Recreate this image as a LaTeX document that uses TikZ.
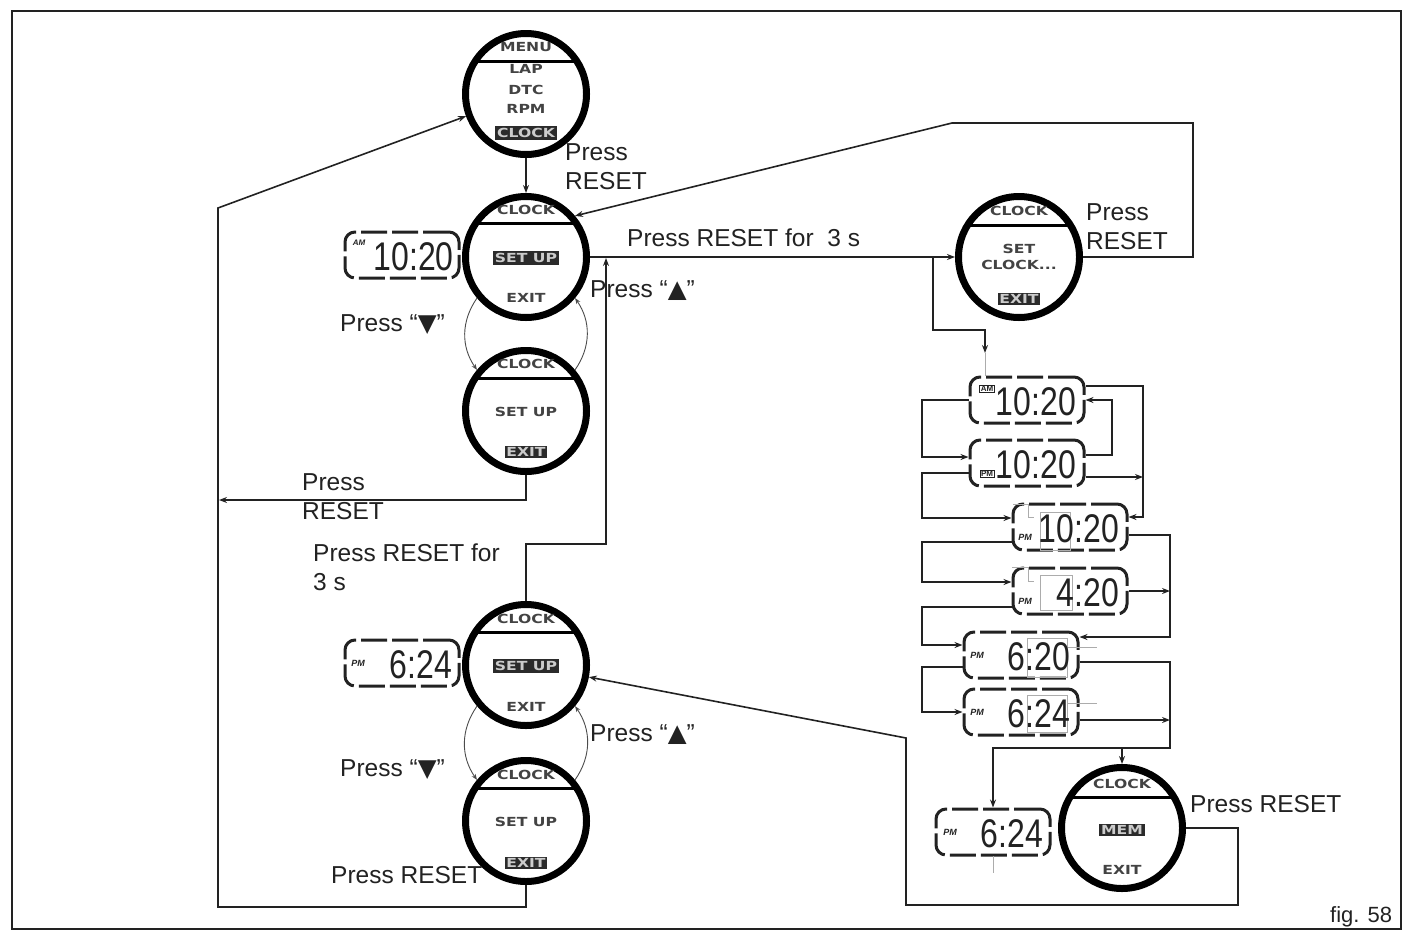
\documentclass[tikz,border=0pt]{standalone}
\usepackage{graphicx}
\usepackage{fontspec}
\setmainfont{Liberation Sans}
\newfontfamily\facefont{DejaVu Sans}
\newfontfamily\symfont{DejaVu Sans}
\usetikzlibrary{arrows.meta,calc}
\definecolor{ink}{HTML}{222222}
\definecolor{inv}{HTML}{2B2B2B}
\newcommand\fw[1]{\scalebox{1.25}[1]{#1}}
\newcommand\lcdnum[1]{\scalebox{0.8}[1]{#1}}
\newcommand\fl[4]{\node[#1] (#2) at ($(#3)+(0,#4)$)}
\newcommand\fsep[2]{\draw[line width=3pt,black] ($(#1)+(-50,#2)$) -- ($(#1)+(50,#2)$);}
\newcommand\tri[1]{{\symfont #1}}
\tikzset{
 face/.style={circle, draw=black, fill=white, line width=7pt, minimum size=121pt, inner sep=0pt},
 ftxt/.style={font=\facefont\bfseries\fontsize{12.5}{12.5}\selectfont, text=ink!85, inner sep=0pt},
 finv/.style={font=\facefont\bfseries\fontsize{12.5}{12.5}\selectfont, fill=inv, text=white!80!black, inner sep=1.8pt},
 lbl/.style={font=\fontsize{24.5}{29}\selectfont, text=ink, align=left, inner sep=0pt, anchor=base west},
 conn/.style={line width=1.6pt, draw=ink},
 arr/.style={conn, -{Stealth[length=8pt,width=6pt]}},
 arcarr/.style={line width=0.9pt, draw=gray!60!black, -{Stealth[length=6pt,width=4.5pt]}},
 lcd/.style={draw=ink, fill=white, line width=3pt, rounded corners=10pt, dash pattern=on 26pt off 5pt, minimum width=114pt, minimum height=46pt, inner sep=0pt},
 dig/.style={font=\fontsize{40}{40}\selectfont, inner sep=0pt, text=ink, anchor=east},
 tagbox/.style={font=\bfseries\fontsize{8}{8}\selectfont, draw=ink, line width=0.8pt, inner sep=1pt, text=ink},
 tag/.style={font=\bfseries\itshape\fontsize{9}{9}\selectfont, inner sep=0pt, text=ink},
 edit/.style={draw=gray!65, line width=0.9pt},
}
\begin{document}
\begin{tikzpicture}[x=1pt,y=-1pt]
\useasboundingbox (0,0) rectangle (1412,937);
\draw[line width=1.6pt, ink] (12,11) rectangle (1401,929);

% ---------- watch faces ----------
\node[face] (c1) at (526,94) {};
\fl{ftxt}{c1a}{c1}{-47}{\fw{MENU}};
\fsep{c1}{-33}
\fl{ftxt}{c1b}{c1}{-25}{\fw{LAP}};
\fl{ftxt}{c1c}{c1}{-4}{\fw{DTC}};
\fl{ftxt}{c1d}{c1}{15}{\fw{RPM}};
\fl{finv}{c1e}{c1}{39}{\fw{CLOCK}};

\node[face] (c2) at (526,257) {};
\fl{ftxt}{c2a}{c2}{-47}{\fw{CLOCK}};
\fsep{c2}{-34}
\fl{finv}{c2b}{c2}{1}{\fw{SET UP}};
\fl{ftxt}{c2c}{c2}{41}{\fw{EXIT}};

\node[face] (c3) at (526,411) {};
\fl{ftxt}{c3a}{c3}{-47}{\fw{CLOCK}};
\fsep{c3}{-33}
\fl{ftxt}{c3b}{c3}{1}{\fw{SET UP}};
\fl{finv}{c3c}{c3}{41}{\fw{EXIT}};

\node[face] (c4) at (526,665) {};
\fl{ftxt}{c4a}{c4}{-46}{\fw{CLOCK}};
\fsep{c4}{-33}
\fl{finv}{c4b}{c4}{1}{\fw{SET UP}};
\fl{ftxt}{c4c}{c4}{42}{\fw{EXIT}};

\node[face] (c5) at (526,821) {};
\fl{ftxt}{c5a}{c5}{-46}{\fw{CLOCK}};
\fsep{c5}{-33}
\fl{ftxt}{c5b}{c5}{1}{\fw{SET UP}};
\fl{finv}{c5c}{c5}{42}{\fw{EXIT}};

\node[face] (c6) at (1019,257) {};
\fl{ftxt}{c6a}{c6}{-46}{\fw{CLOCK}};
\fsep{c6}{-32}
\fl{ftxt}{c6b}{c6}{-8}{\fw{SET}};
\fl{ftxt}{c6c}{c6}{8}{\fw{CLOCK...}};
\fl{finv}{c6d}{c6}{42}{\fw{EXIT}};

\node[face] (c7) at (1122,828) {};
\fl{ftxt}{c7a}{c7}{-44}{\fw{CLOCK}};
\fsep{c7}{-31}
\fl{finv}{c7b}{c7}{2}{\fw{MEM}};
\fl{ftxt}{c7c}{c7}{42}{\fw{EXIT}};

% ---------- LCD displays ----------
\node[lcd] (L1) at (402,255) {};
\node[tag, font=\bfseries\itshape\fontsize{8}{8}\selectfont] (L1t) at (359,243) {AM};
\node[dig] (L1d) at (454,257) {\lcdnum{10:20}};

\node[lcd] (L2) at (402,663) {};
\node[tag] (L2t) at (358,663) {PM};
\node[dig] (L2d) at (452,665) {\lcdnum{6:24}};

\node[lcd] (R1) at (1027,400) {};
\node[tagbox] (R1t) at (987,389) {AM};
\node[dig] (R1d) at (1076,402) {\lcdnum{10:20}};

\node[lcd] (R2) at (1027,463) {};
\node[tagbox] (R2t) at (987,474) {PM};
\node[dig] (R2d) at (1076,465) {\lcdnum{10:20}};

\node[lcd] (R3) at (1070,527) {};
\draw[edit] (1040,512) rectangle (1070,550);
\draw[edit] (1013,504) -- (1028,504) -- (1028,517) -- (1034,517);
\node[tag] (R3t) at (1025,537) {PM};
\node[dig] (R3d) at (1119,529) {\lcdnum{10:20}};

\node[lcd] (R4) at (1070,591) {};
\draw[edit] (1040,575) rectangle (1072,610);
\draw[edit] (1012,567) -- (1028,567) -- (1028,581) -- (1034,581);
\node[tag] (R4t) at (1025,601) {PM};
\node[dig] (R4d) at (1119,593) {\lcdnum{4:20}};

\node[lcd] (R5) at (1021,655) {};
\draw[edit] (1027,638) rectangle (1067,677);
\draw[edit] (1067,647) -- (1097,647);
\node[tag] (R5t) at (977,655) {PM};
\node[dig] (R5d) at (1070,657) {\lcdnum{6:20}};

\node[lcd] (R6) at (1021,712) {};
\draw[edit] (1027,695) rectangle (1067,732);
\draw[edit] (1067,703) -- (1097,703);
\node[tag] (R6t) at (977,712) {PM};
\node[dig] (R6d) at (1070,714) {\lcdnum{6:24}};

\node[lcd] (R7) at (993,832) {};
\draw[edit] (993,856) -- (993,873);
\node[tag] (R7t) at (950,832) {PM};
\node[dig] (R7d) at (1043,834) {\lcdnum{6:24}};

% ---------- connectors ----------
\draw[arr] (c1.south) -- (c2.north);
\draw[arr] (c2.east) -- (c6.west);
\coordinate (j1) at (933,257);
\coordinate (t1) at (985,353);
\draw[arr] (j1) -- (933,330) -- (985,330) -- (t1);
\draw[edit] (t1) -- (R1.north -| t1);
\draw[arr] (c6.east) -- (1193,257) -- (1193,123) -- (952,123) -- (c2.40);

\coordinate (j2) at (606,258);
\draw[arr] (c4.north) -- (526,544) -- (606,544) -- (j2);

\draw[arcarr] (c2.220) to[bend right=35] (c3.140);
\draw[arcarr] (c3.40) to[bend right=35] (c2.320);
\draw[arcarr] (c4.220) to[bend right=35] (c5.140);
\draw[arcarr] (c5.40) to[bend right=35] (c4.320);

\coordinate (j3) at (219,500);
\draw[arr] (c3.south) -- (526,500) -- (j3);
\draw[arr] (c5.south) -- (526,907) -- (218,907) -- (218,208) -- (c1);
\draw[arr] (c7.east) -- (1238,828) -- (1238,905) -- (906,905) -- (906,738) -- (c4);

% right column
\draw[arr] (R1.west) -- (922,400) -- (922,457) -- ([yshift=6pt]R2.west);
\draw[arr] ([yshift=8pt]R2.east) -- (1112,455) -- (1112,400) -- (R1.east);
\draw[arr] ([yshift=14pt]R1.east) -- (1143,386) -- (1143,517) -- ([yshift=10pt]R3.east);
\coordinate (j4) at (1143,477);
\draw[arr] ([yshift=-14pt]R2.east) -- (j4);
\draw[arr] ([yshift=-10pt]R2.west) -- (922,473) -- (922,518) -- ([yshift=9pt]R3.west);
\draw[arr] ([yshift=-15pt]R3.west) -- (922,542) -- (922,582) -- ([yshift=9pt]R4.west);
\draw[arr] ([yshift=-8pt]R3.east) -- (1170,535) -- (1170,637) -- ([yshift=18pt]R5.east);
\coordinate (j5) at (1170,591);
\draw[arr] (R4.east) -- (j5);
\draw[arr] ([yshift=-16pt]R4.west) -- (922,607) -- (922,645) -- ([yshift=10pt]R5.west);
\draw[arr] ([yshift=-12pt]R5.west) -- (922,667) -- (922,712) -- (R6.west);
\draw[arr] ([yshift=-7pt]R5.east) -- (1170,662) -- (1170,748) -- (993,748) -- (R7.north);
\coordinate (j6) at (1122,748);
\draw[arr] (j6) -- (c7.north);
\coordinate (j7) at (1170,720);
\draw[arr] ([yshift=-8pt]R6.east) -- (j7);

% ---------- labels ----------
\node[lbl] (p1) at (565,189) {Press\\RESET};
\node[lbl] (p2) at (627,246) {Press RESET for\ \ 3 s};
\node[lbl] (p3) at (1086,249) {Press\\RESET};
\node[lbl] (p4) at (590,297) {Press “\tri{▲}”};
\node[lbl] (p5) at (340,331) {Press “\tri{▼}”};
\node[lbl] (p6) at (302,519) {Press\\RESET};
\node[lbl] (p7) at (313,590) {Press RESET for\\3 s};
\node[lbl] (p8) at (590,741) {Press “\tri{▲}”};
\node[lbl] (p9) at (340,776) {Press “\tri{▼}”};
\node[lbl] (p10) at (331,883) {Press RESET};
\node[lbl] (p11) at (1190,812) {Press RESET};
\node[lbl, font=\fontsize{22}{26}\selectfont] (fig) at (1330,922) {fig. 58};
\end{tikzpicture}
\end{document}
